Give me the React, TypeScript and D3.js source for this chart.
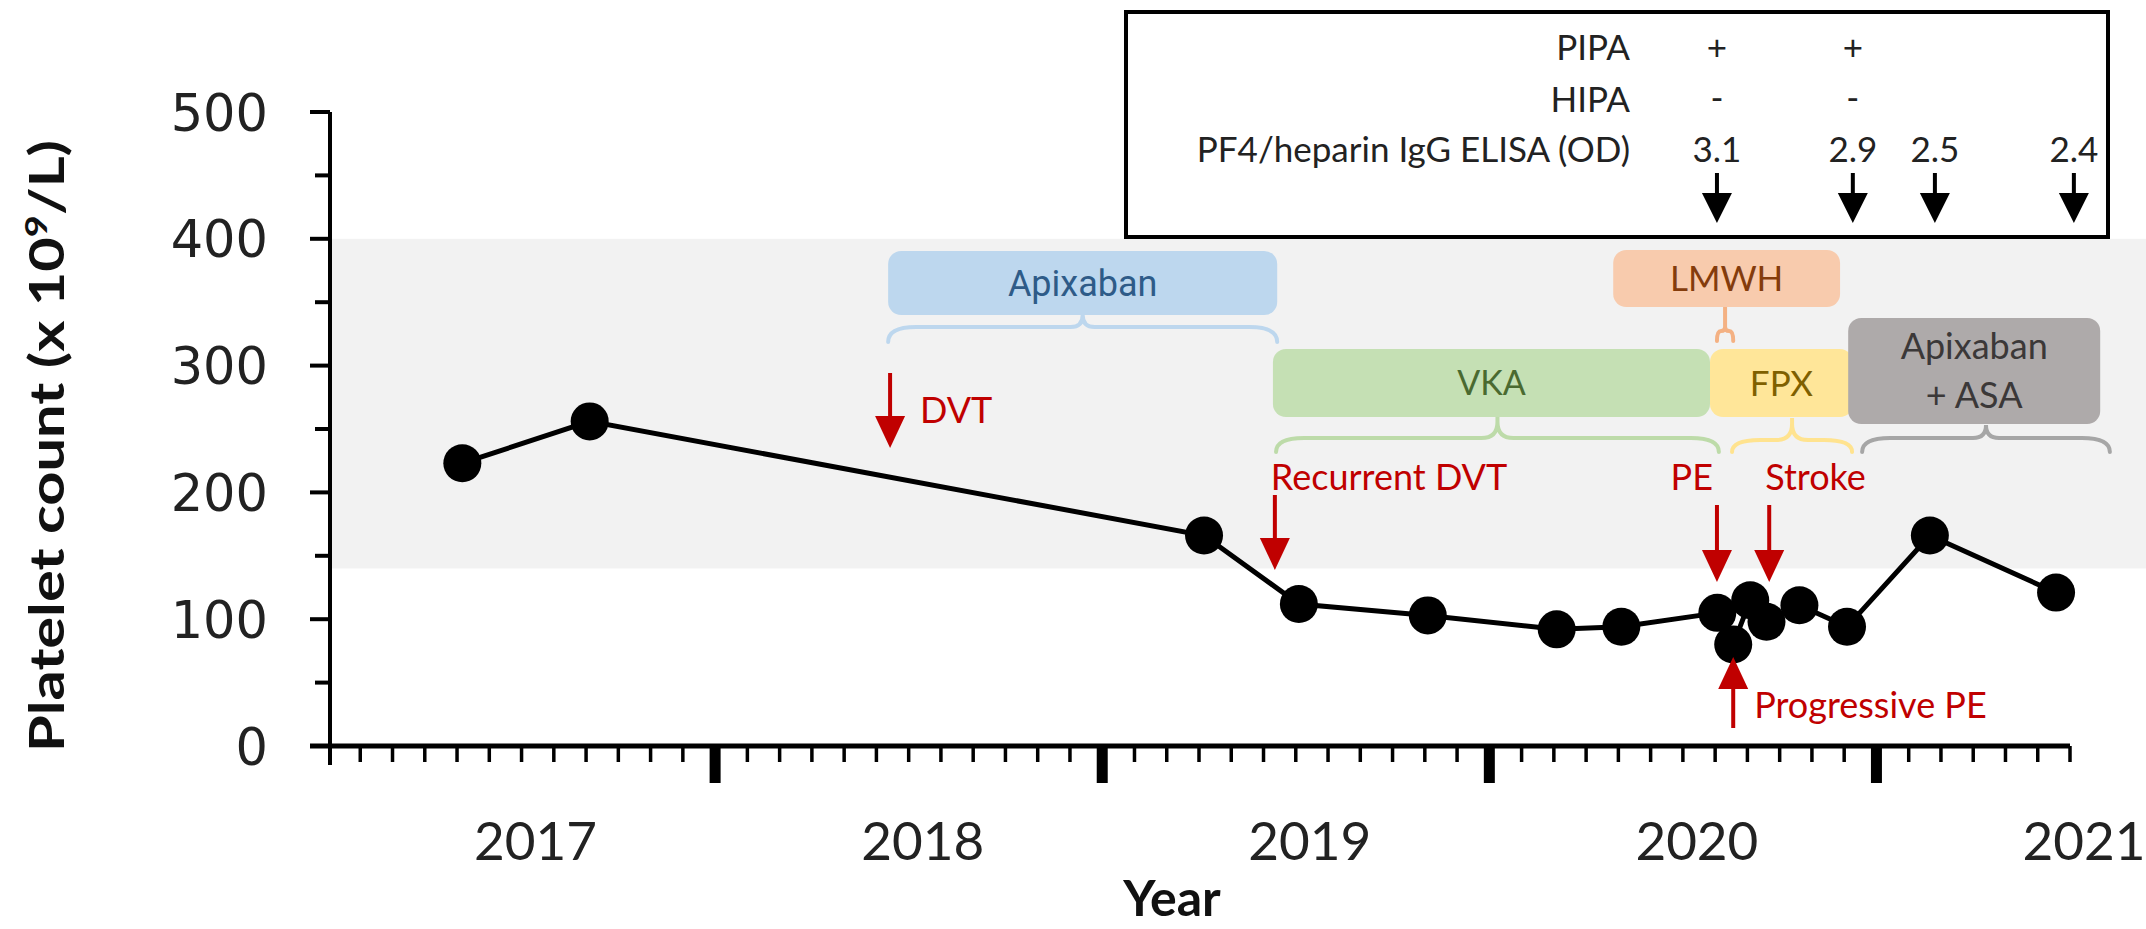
import React from 'react';
import * as d3 from 'd3';

// ---------- data ----------
const yearLabels = [2017, 2018, 2019, 2020, 2021];
const yTickValues = [0, 100, 200, 300, 400, 500];
const yMinorValues = [50, 150, 250, 350, 450];

// sample dates (decimal years) and platelet counts (x10^9/L)
const sampleDates = [2016.847, 2017.176, 2018.763, 2019.008, 2019.341, 2019.674, 2019.841, 2020.089, 2020.13, 2020.174, 2020.216, 2020.301, 2020.424, 2020.638, 2020.964];
const plateletCounts = [223, 256, 166, 112, 103, 92, 94, 105, 80, 115, 98, 111, 94, 166, 121];

const normalRange = [140, 400];

// treatments
const drugNames = ['Apixaban', 'VKA', 'LMWH', 'FPX', 'Apixaban|+ ASA'];
const drugBoxStart = [2017.947, 2018.941, 2019.82, 2020.07, 2020.427];
const drugBoxEnd = [2018.952, 2020.07, 2020.406, 2020.439, 2021.078];
const drugPeriodStart = [2017.947, 2018.949, 2020.088, 2020.127, 2020.463];
const drugPeriodEnd = [2018.952, 2020.093, 2020.13, 2020.437, 2021.103];

// clinical events
const eventNames = ['DVT', 'Recurrent DVT', 'PE', 'Stroke', 'Progressive PE'];
const eventDates = [2017.952, 2018.946, 2020.088, 2020.223, 2020.13];

// laboratory tests
const testRowLabels = ['PIPA', 'HIPA', 'PF4/heparin IgG ELISA (OD)'];
const testDates = [2020.088, 2020.439, 2020.651, 2021.01];
const pipaResults = ['+', '+', '', ''];
const hipaResults = ['-', '-', '', ''];
const elisaOD = ['3.1', '2.9', '2.5', '2.4'];

// ---------- styles / layout ----------
const RED = '#c00000';
const CAL = 'Lato, "Open Sans", sans-serif';
const drugStyle = [
  { fill: '#bdd7ee', brace: '#bdd7ee', text: '#2e5b88', font: 'Roboto, Lato, sans-serif', y0: 251, y1: 315, tip: 315, mid: 327, end: 342, size: 36 },
  { fill: '#c5e0b4', brace: '#bddba9', text: '#4a6a30', font: CAL, y0: 349, y1: 417, tip: 417, mid: 438, end: 452, size: 34 },
  { fill: '#f8cbad', brace: '#f4b183', text: '#843c0c', font: CAL, y0: 250, y1: 307, tip: 307, mid: 331, end: 341, size: 35 },
  { fill: '#ffe699', brace: '#ffe38f', text: '#7f6000', font: CAL, y0: 349, y1: 417, tip: 418, mid: 440, end: 452, size: 35 },
  { fill: '#aeaaaa', brace: '#a6a6a6', text: '#3b3838', font: CAL, y0: 318, y1: 424, tip: 425, mid: 438, end: 452, size: 36 },
];
const eventLayout = [
  { top: 373, tip: 448, anchor: 'start', dx: 30, ty: 423 },
  { top: 495, tip: 570, anchor: 'start', dx: -4, ty: 490 },
  { top: 505, tip: 582, anchor: 'end', dx: -4, ty: 490 },
  { top: 505, tip: 582, anchor: 'start', dx: -4, ty: 490 },
  { top: 728, tip: 657, anchor: 'start', dx: 21, ty: 718 },
];

function bracePath(x0: number, x1: number, xc: number, yTip: number, yMid: number, yEnd: number) {
  const r0 = Math.min(28, (xc - x0) / 2);
  const r1 = Math.min(28, (x1 - xc) / 2);
  const rc = Math.min(16, (xc - x0) / 2, (x1 - xc) / 2, yMid - yTip);
  return `M${x0},${yEnd} Q${x0},${yMid} ${x0 + r0},${yMid} L${xc - rc},${yMid} Q${xc},${yMid} ${xc},${yMid - rc} L${xc},${yTip} L${xc},${yMid - rc} Q${xc},${yMid} ${xc + rc},${yMid} L${x1 - r1},${yMid} Q${x1},${yMid} ${x1},${yEnd}`;
}

function Arrow({ x, top, tip, color, headW = 30, headH = 32, shaft = 4 }: any) {
  const up = tip < top;
  const base = up ? tip + headH : tip - headH;
  return (
    <g>
      <line x1={x} x2={x} y1={top} y2={base} stroke={color} strokeWidth={shaft} />
      <path d={`M${x - headW / 2},${base} L${x + headW / 2},${base} L${x},${tip} Z`} fill={color} />
    </g>
  );
}

export default function App() {
  const W = 2146, H = 929;
  const x = d3.scaleLinear().domain([2016.5, 2021.0]).range([328, 2070]);
  const y = d3.scaleLinear().domain([0, 500]).range([746, 112]);
  const pts = sampleDates.map((d, i) => [x(d), y(plateletCounts[i])] as [number, number]);
  const linePath = d3.line()(pts) || '';

  const months = d3.range(1, 55).map((i) => 2016.5 + i / 12);

  return (
    <svg width={W} height={H} style={{ position: 'absolute', left: 0, top: 0, background: '#fff' }}>
      {/* normal range band */}
      <rect x={x(2016.5)} y={y(normalRange[1])} width={W - x(2016.5)} height={y(normalRange[0]) - y(normalRange[1])} fill="#f2f2f2" />

      {/* info box */}
      <rect x={1126} y={12} width={982} height={225} fill="#fff" stroke="#000" strokeWidth={4} />
      {testRowLabels.map((t, i) => (
        <text key={t} x={1630} y={[60, 112, 162][i]} textAnchor="end" fontFamily={CAL} fontSize={35} fill="#222">{t}</text>
      ))}
      {testDates.map((d, i) => (
        <g key={i}>
          <text x={x(d)} y={60} textAnchor="middle" fontFamily={CAL} fontSize={35} fill="#222">{pipaResults[i]}</text>
          <text x={x(d)} y={110} textAnchor="middle" fontFamily={CAL} fontSize={35} fill="#222">{hipaResults[i]}</text>
          <text x={x(d)} y={162} textAnchor="middle" fontFamily={CAL} fontSize={35} fill="#222">{elisaOD[i]}</text>
          <Arrow x={x(d)} top={173} tip={223} color="#000" headW={30} headH={30} />
        </g>
      ))}

      {/* drug boxes and braces */}
      {drugNames.map((n, i) => {
        const s = drugStyle[i];
        const bx0 = x(drugBoxStart[i]), bx1 = x(drugBoxEnd[i]);
        const px0 = x(drugPeriodStart[i]), px1 = x(drugPeriodEnd[i]);
        const lines = n.split('|');
        const cx = (bx0 + bx1) / 2;
        const cy = (s.y0 + s.y1) / 2;
        return (
          <g key={n}>
            <path d={bracePath(px0, px1, (px0 + px1) / 2, s.tip, s.mid, s.end)} fill="none" stroke={s.brace} strokeWidth={4} strokeLinecap="round" />
            <rect x={bx0} y={s.y0} width={bx1 - bx0} height={s.y1 - s.y0} rx={13} fill={s.fill} />
            {lines.map((l, j) => (
              <text key={j} x={cx} y={cy + (j - (lines.length - 1) / 2) * 49 + s.size * 0.36} textAnchor="middle" fontFamily={s.font} fontSize={s.size} fill={s.text}>{l}</text>
            ))}
          </g>
        );
      })}

      {/* axes */}
      <line x1={330} x2={330} y1={y(500)} y2={765} stroke="#000" strokeWidth={4} />
      {yTickValues.map((v) => (
        <g key={v}>
          <line x1={310} x2={330} y1={y(v)} y2={y(v)} stroke="#000" strokeWidth={4} />
          <text x={268} y={y(v) + 18.5} textAnchor="end" fontFamily='"DejaVu Sans", Verdana, sans-serif' fontSize={51} fill="#222">{v}</text>
        </g>
      ))}
      {yMinorValues.map((v) => (
        <line key={v} x1={315} x2={330} y1={y(v)} y2={y(v)} stroke="#000" strokeWidth={4} />
      ))}
      <line x1={310} x2={x(2021)} y1={746} y2={746} stroke="#000" strokeWidth={5} />
      {months.map((m, i) => {
        const major = (i + 1) % 12 === 0;
        return <line key={i} x1={x(m)} x2={x(m)} y1={746} y2={major ? 783 : 762} stroke="#000" strokeWidth={major ? 11 : 3.5} />;
      })}
      {yearLabels.map((yr) => (
        <text key={yr} x={x(yr) + 14} y={860} textAnchor="middle" fontFamily={CAL} fontSize={53} fill="#222">{yr}</text>
      ))}
      <text x={1172} y={916} textAnchor="middle" fontFamily={CAL} fontWeight="bold" fontSize={50} fill="#111">Year</text>
      <text transform="translate(64,446) rotate(-90)" textAnchor="middle" fontFamily={CAL} fontWeight="bold" fontSize={47} fill="#111" textLength={612} lengthAdjust="spacingAndGlyphs">
        Platelet count (x 10<tspan fontSize={30} dy={-17}>9</tspan><tspan dy={17}>/L)</tspan>
      </text>

      {/* data */}
      <path d={linePath} fill="none" stroke="#000" strokeWidth={5} />
      {pts.map((p, i) => (
        <circle key={i} cx={p[0]} cy={p[1]} r={19} fill="#000" />
      ))}

      {/* events */}
      {eventNames.map((n, i) => {
        const L = eventLayout[i];
        const ex = x(eventDates[i]);
        return (
          <g key={n}>
            <Arrow x={ex} top={L.top} tip={L.tip} color={RED} />
            <text x={ex + L.dx} y={L.ty} textAnchor={L.anchor} fontFamily={CAL} fontSize={36} fill={RED}>{n}</text>
          </g>
        );
      })}
    </svg>
  );
}
